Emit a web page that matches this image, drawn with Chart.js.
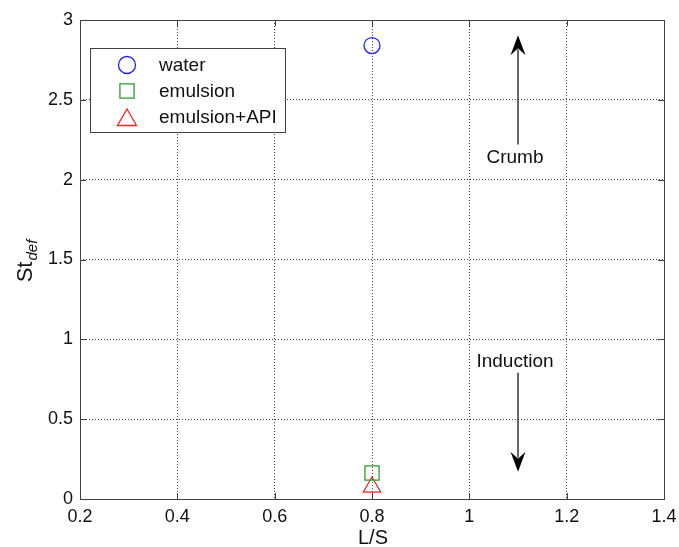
<!DOCTYPE html>
<html>
<head>
<meta charset="utf-8">
<script src="https://cdn.jsdelivr.net/npm/chart.js@4"></script>
<style>
  html, body { margin: 0; padding: 0; background: #fff; }
  #wrap { width: 679px; height: 547px; }
</style>
</head>
<body>
<div id="wrap"><canvas id="chart" width="679" height="547"></canvas></div>
<script>
const seriesNames = ["water", "emulsion", "emulsion+API"]
const lsValues = [0.8]
const waterSt = [2.84]
const emulsionSt = [0.163]
const emulsionApiSt = [0.075]

const xTicks = [0.2, 0.4, 0.6, 0.8, 1, 1.2, 1.4]
const yTicks = [0, 0.5, 1, 1.5, 2, 2.5, 3]

// annotation arrows: [x, from y, to y (tip)]
const arrowLabels = ["Crumb", "Induction"]
const arrowX = [1.1, 1.1]
const arrowFrom = [2.22, 0.79]
const arrowTo = [2.905, 0.171]
const arrowTextY = [2.14, 0.86]

const FONT = "'Liberation Sans', Arial, sans-serif"

const toPoints = (ys) => lsValues.map((x, i) => ({ x, y: ys[i] }))

const styles = [
  { pointStyle: "circle", color: "#1f1fff", radius: 8, legendRadius: 8.5 },
  { pointStyle: "rect", color: "#2e9a2e", radius: 10, legendRadius: 10 },
  { pointStyle: "triangle", color: "#ff2020", radius: 10, legendRadius: 11 }
]
const seriesData = [waterSt, emulsionSt, emulsionApiSt]

const datasets = seriesNames.map((name, i) => ({
  label: name,
  data: toPoints(seriesData[i]),
  pointStyle: styles[i].pointStyle,
  pointRadius: styles[i].radius,
  pointHoverRadius: styles[i].radius,
  borderColor: styles[i].color,
  backgroundColor: "rgba(0,0,0,0)",
  pointBorderWidth: 1.3,
  showLine: false
}))

function drawArrow(ctx, x, y0, y1) {
  const dir = y1 < y0 ? 1 : -1
  const headLen = 20
  const headW = 7.5
  ctx.beginPath()
  ctx.moveTo(x, y0)
  ctx.lineTo(x, y1 + dir * headLen * 0.7)
  ctx.stroke()
  ctx.beginPath()
  ctx.moveTo(x, y1)
  ctx.lineTo(x - headW, y1 + dir * headLen)
  ctx.lineTo(x, y1 + dir * headLen * 0.65)
  ctx.lineTo(x + headW, y1 + dir * headLen)
  ctx.closePath()
  ctx.fill()
}

const matlabFrame = {
  id: "matlabFrame",
  afterDatasetsDraw(chart) {
    const { ctx, chartArea: a, scales } = chart
    const xs = scales.x, ys = scales.y
    ctx.save()

    // box + inward ticks on all sides
    ctx.strokeStyle = "#404040"
    ctx.lineWidth = 1
    ctx.strokeRect(Math.round(a.left) + 0.5, Math.round(a.top) + 0.5,
      Math.round(a.right - a.left), Math.round(a.bottom - a.top))
    const tl = 6
    ctx.beginPath()
    xTicks.forEach(v => {
      const px = Math.round(xs.getPixelForValue(v)) + 0.5
      ctx.moveTo(px, a.bottom); ctx.lineTo(px, a.bottom - tl)
      ctx.moveTo(px, a.top); ctx.lineTo(px, a.top + tl)
    })
    yTicks.forEach(v => {
      const py = Math.round(ys.getPixelForValue(v)) + 0.5
      ctx.moveTo(a.left, py); ctx.lineTo(a.left + tl, py)
      ctx.moveTo(a.right, py); ctx.lineTo(a.right - tl, py)
    })
    ctx.stroke()

    // arrows and their labels
    ctx.strokeStyle = "#000"
    ctx.fillStyle = "#000"
    ctx.lineWidth = 1.2
    arrowLabels.forEach((label, i) => {
      const px = xs.getPixelForValue(arrowX[i])
      drawArrow(ctx, px, ys.getPixelForValue(arrowFrom[i]), ys.getPixelForValue(arrowTo[i]))
      ctx.font = "19px " + FONT
      ctx.textAlign = "center"
      ctx.textBaseline = "middle"
      ctx.fillStyle = "#111"
      ctx.fillText(label, px - 3, ys.getPixelForValue(arrowTextY[i]))
      ctx.fillStyle = "#000"
    })

    // legend box
    const lx = 90, ly = 48, lw = 195, lh = 84
    ctx.fillStyle = "#fff"
    ctx.fillRect(lx, ly, lw, lh)
    ctx.strokeStyle = "#404040"
    ctx.lineWidth = 1
    ctx.strokeRect(lx + 0.5, ly + 0.5, lw, lh)
    ctx.font = "19px " + FONT
    ctx.textAlign = "left"
    ctx.textBaseline = "middle"
    datasets.forEach((ds, i) => {
      const rowY = 65 + i * 26
      ctx.save()
      ctx.strokeStyle = ds.borderColor
      ctx.fillStyle = "rgba(0,0,0,0)"
      ctx.lineWidth = 1.3
      const r = styles[i].legendRadius
      Chart.helpers.drawPoint(ctx, { pointStyle: ds.pointStyle, radius: r, borderWidth: 1.3 }, 127, rowY + (ds.pointStyle === "triangle" ? 3 : 0))
      ctx.restore()
      ctx.fillStyle = "#111"
      ctx.fillText(ds.label, 159, rowY + 1)
    })

    // axis titles
    ctx.fillStyle = "#111"
    ctx.font = "20px " + FONT
    ctx.textAlign = "center"
    ctx.textBaseline = "middle"
    ctx.fillText("L/S", (a.left + a.right) / 2 + 1, 538)

    ctx.translate(25, (a.top + a.bottom) / 2 + 2)
    ctx.rotate(-Math.PI / 2)
    ctx.font = "22px " + FONT
    const stW = ctx.measureText("St").width
    ctx.font = "italic 15px " + FONT
    const defW = ctx.measureText("def").width
    const start = -(stW + defW) / 2
    ctx.textAlign = "left"
    ctx.textBaseline = "alphabetic"
    ctx.font = "22px " + FONT
    ctx.fillText("St", start, 7)
    ctx.font = "italic 15px " + FONT
    ctx.fillText("def", start + stW + 1, 12)
    ctx.restore()
  }
}

new Chart(document.getElementById("chart"), {
  type: "scatter",
  data: { datasets },
  options: {
    responsive: false,
    animation: false,
    layout: { padding: { left: 0, top: 20, right: 15, bottom: 0 } },
    plugins: { legend: { display: false }, tooltip: { enabled: false } },
    scales: {
      x: {
        type: "linear",
        min: 0.2,
        max: 1.4,
        afterFit: (s) => { s.height = 48; s.paddingLeft = 0; s.paddingRight = 0 },
        afterBuildTicks: (s) => { s.ticks = xTicks.map(v => ({ value: v })) },
        ticks: {
          padding: 7,
          color: "#111",
          font: { family: FONT, size: 18 },
          maxRotation: 0,
          callback: (v) => String(v)
        },
        grid: { color: "#444", lineWidth: 1, drawTicks: false },
        border: { display: false, dash: [1, 2] }
      },
      y: {
        type: "linear",
        min: 0,
        max: 3,
        afterFit: (s) => { s.width = 80; s.paddingTop = 0; s.paddingBottom = 0 },
        afterBuildTicks: (s) => { s.ticks = yTicks.map(v => ({ value: v })) },
        ticks: {
          padding: 7,
          color: "#111",
          font: { family: FONT, size: 18 },
          callback: (v) => String(v)
        },
        grid: { color: "#444", lineWidth: 1, drawTicks: false },
        border: { display: false, dash: [1, 2] }
      }
    }
  },
  plugins: [matlabFrame]
})
</script>
</body>
</html>
